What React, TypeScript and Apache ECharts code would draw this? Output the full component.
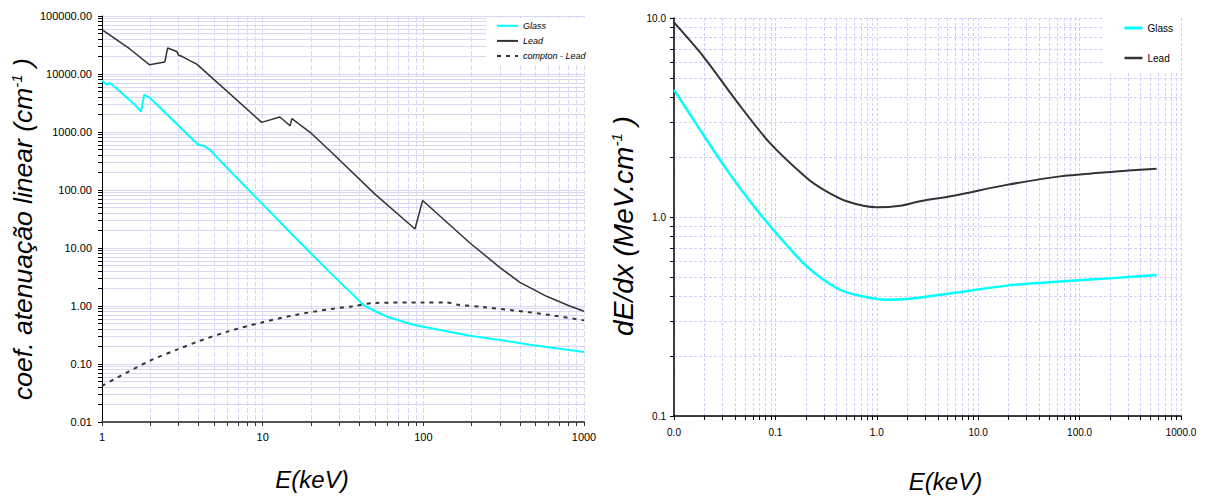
import React, { useEffect, useRef } from "react";
import * as echarts from "echarts";

// ---------- Left chart: linear attenuation coefficient ----------
const leadEnergy = [1, 1.49, 1.97, 2.46, 2.56, 2.92, 3.0, 3.16, 3.52, 3.89, 9.86, 12.8, 14.8, 15.2, 20.2, 26.2, 50, 88.7, 99, 195, 300, 399, 585, 800, 1000];
const leadMu = [58000, 27000, 14500, 16100, 28000, 24500, 21000, 20000, 17000, 14800, 1465, 1815, 1280, 1700, 935, 476, 85, 21.3, 66, 12.2, 4.6, 2.55, 1.47, 1.02, 0.81];

const glassEnergy = [1, 1.07, 1.12, 1.26, 1.46, 1.64, 1.75, 1.83, 1.99, 3.97, 4.37, 4.7, 6.1, 10, 15, 18.9, 26.2, 35, 42.3, 50, 59, 86.5, 100, 195, 300, 461, 1000];
const glassMu = [7660, 6540, 7000, 5370, 3700, 2760, 2260, 4400, 3860, 604, 565, 495, 230, 57, 18, 9.4, 3.8, 1.75, 1.05, 0.82, 0.66, 0.476, 0.44, 0.308, 0.26, 0.215, 0.161];

const comptonEnergy = [1, 1.99, 2.98, 3.97, 6.1, 9.9, 15.9, 27.5, 35.8, 50, 100, 140, 160, 236, 363, 615, 1000];
const comptonMu = [0.042, 0.114, 0.18, 0.245, 0.365, 0.52, 0.7, 0.9, 0.98, 1.13, 1.15, 1.15, 1.06, 0.96, 0.84, 0.7, 0.565];

// ---------- Right chart: stopping power ----------
const leadDedxEnergy = [0.01, 0.0195, 0.0415, 0.0885, 0.204, 0.3, 0.505, 1.0, 1.7, 2.67, 5.7, 19.1, 64, 215, 575];
const leadDedx = [9.5, 6.4, 3.81, 2.35, 1.57, 1.37, 1.2, 1.12, 1.14, 1.2, 1.28, 1.45, 1.6, 1.69, 1.75];

const glassDedxEnergy = [0.01, 0.018, 0.0331, 0.0562, 0.0953, 0.204, 0.433, 0.79, 1.25, 1.97, 5.7, 19.1, 64, 215, 575];
const glassDedx = [4.36, 2.75, 1.73, 1.2, 0.863, 0.565, 0.431, 0.396, 0.384, 0.387, 0.415, 0.452, 0.474, 0.493, 0.511];

// ---------- Tick labels ----------
const leftXLabels = [1, 10, 100, 1000];
const leftYLabels = [0.01, 0.1, 1, 10, 100, 1000, 10000, 100000];
const rightXLabels = [0.01, 0.1, 1, 10, 100, 1000];
const rightYLabels = [0.1, 1, 10];
const minorMultipliers = [1, 2, 3, 4, 5, 6, 7, 8, 9];

const leftLegend = ["Glass", "Lead", "compton - Lead"];
const rightLegend = ["Glass", "Lead"];

// tick positions at 1..9 x 10^k between the first and last label
function decadeTicks(labels: number[]): number[] {
  const out: number[] = [];
  for (let i = 0; i < labels.length - 1; i++) {
    for (const m of minorMultipliers) out.push(+(labels[i] * m).toPrecision(6));
  }
  out.push(labels[labels.length - 1]);
  return out;
}

const zip = (xs: number[], ys: number[]) => xs.map((x, i) => [x, ys[i]]);

const FONT = '"Liberation Sans", Arial, Helvetica, sans-serif';

export default function App() {
  const ref = useRef<HTMLDivElement>(null);

  useEffect(() => {
    if (!ref.current) return;
    const chart = echarts.init(ref.current, undefined, { renderer: "svg" });

    const leftGrid = "#d8d8f6";
    const rightGrid = "#cfcff7";

    const option: any = {
      animation: false,
      backgroundColor: "#ffffff",
      grid: [
        { left: 102, top: 16, width: 482, height: 406 },
        { left: 674, top: 18, width: 507, height: 398 },
      ],
      legend: [
        {
          data: leftLegend,
          orient: "vertical",
          left: 486,
          top: 18,
          padding: [3, 8, 4, 10],
          itemWidth: 21,
          itemHeight: 12,
          itemGap: 5.5,
          itemStyle: { opacity: 0 },
          backgroundColor: "#ffffff",
          selectedMode: false,
          textStyle: { fontSize: 9, fontStyle: "italic", color: "#000", fontFamily: FONT },
        },
        {
          data: rightLegend.map((n) => ({
            name: n,
            lineStyle: n === "Glass" ? { width: 3, color: "#00ffff" } : { width: 2.5, color: "#333" },
          })),
          orient: "vertical",
          left: 1104,
          top: 18,
          padding: [5, 8, 10, 19],
          itemWidth: 18,
          itemHeight: 12,
          itemGap: 20,
          itemStyle: { opacity: 0 },
          backgroundColor: "#ffffff",
          selectedMode: false,
          textStyle: { fontSize: 10, color: "#000", fontFamily: FONT },
        },
      ],
      xAxis: [
        {
          type: "log",
          logBase: 10,
          gridIndex: 0,
          min: 1,
          max: 1000,
          axisLine: { show: true, lineStyle: { color: "#555", width: 2 } },
          axisTick: { show: true, inside: false, length: 4, customValues: decadeTicks(leftXLabels), lineStyle: { color: "#333" } },
          axisLabel: {
            customValues: leftXLabels,
            formatter: (v: number) => String(Math.round(v)),
            margin: 9,
            fontSize: 11,
            color: "#000",
            fontFamily: FONT,
          },
          splitLine: { show: true, lineStyle: { color: leftGrid, width: 1, type: [5, 2] } },
          name: "E(keV)",
          nameLocation: "middle",
          nameGap: 45,
          nameTextStyle: { fontSize: 24, fontStyle: "italic", color: "#000", fontFamily: FONT, padding: [0, 62, 0, 0] },
        },
        {
          type: "log",
          logBase: 10,
          gridIndex: 1,
          min: 0.01,
          max: 1000,
          axisLine: { show: true, lineStyle: { color: "#000", width: 1.5 } },
          axisTick: { show: true, inside: false, length: 4, customValues: decadeTicks(rightXLabels), lineStyle: { color: "#000" } },
          axisLabel: {
            customValues: rightXLabels,
            formatter: (v: number) => v.toFixed(1),
            margin: 11,
            fontSize: 10,
            color: "#000",
            fontFamily: FONT,
          },
          splitLine: { show: true, lineStyle: { color: rightGrid, width: 1, type: [3, 2] } },
          name: "E(keV)",
          nameLocation: "middle",
          nameGap: 53,
          nameTextStyle: { fontSize: 24, fontStyle: "italic", color: "#000", fontFamily: FONT, padding: [0, 0, 0, 36] },
        },
      ],
      yAxis: [
        {
          type: "log",
          logBase: 10,
          gridIndex: 0,
          min: 0.01,
          max: 100000,
          axisLine: { show: true, lineStyle: { color: "#000", width: 1 } },
          axisTick: { show: true, inside: false, length: 4, customValues: decadeTicks(leftYLabels), lineStyle: { color: "#000" } },
          axisLabel: {
            customValues: leftYLabels,
            formatter: (v: number) => v.toFixed(2),
            margin: 10,
            fontSize: 11,
            color: "#000",
            fontFamily: FONT,
          },
          splitLine: { show: true, lineStyle: { color: leftGrid, width: 1 } },
          name: "{a|coef. atenuação linear (cm}{b|-1}{a| )}",
          nameLocation: "middle",
          nameGap: 44,
          nameTextStyle: {
            padding: [0, 20, 0, 0],
            rich: {
              a: { fontSize: 26.5, fontStyle: "italic", color: "#000", fontFamily: FONT },
              b: { fontSize: 15, fontStyle: "italic", color: "#000", fontFamily: FONT, verticalAlign: "top" },
            },
          },
        },
        {
          type: "log",
          logBase: 10,
          gridIndex: 1,
          min: 0.1,
          max: 10,
          axisLine: { show: true, lineStyle: { color: "#000", width: 1.5 } },
          axisTick: { show: true, inside: false, length: 4, customValues: decadeTicks(rightYLabels), lineStyle: { color: "#000" } },
          axisLabel: {
            customValues: rightYLabels,
            formatter: (v: number) => v.toFixed(1),
            margin: 8,
            fontSize: 10,
            color: "#000",
            fontFamily: FONT,
          },
          splitLine: { show: true, lineStyle: { color: rightGrid, width: 1, type: [3, 2] } },
          name: "{a|dE/dx (MeV.cm}{b|-1}{a| )}",
          nameLocation: "middle",
          nameGap: 37,
          nameTextStyle: {
            padding: [0, 18, 0, 0],
            rich: {
              a: { fontSize: 28, fontStyle: "italic", color: "#000", fontFamily: FONT },
              b: { fontSize: 15, fontStyle: "italic", color: "#000", fontFamily: FONT, verticalAlign: "top" },
            },
          },
        },
      ],
      series: [
        {
          name: "Glass",
          type: "line",
          xAxisIndex: 0,
          yAxisIndex: 0,
          data: zip(glassEnergy, glassMu),
          symbol: "none",
          z: 3,
          itemStyle: { color: "#00ffff" },
          lineStyle: { color: "#00ffff", width: 2 },
        },
        {
          name: "Lead",
          type: "line",
          xAxisIndex: 0,
          yAxisIndex: 0,
          data: zip(leadEnergy, leadMu),
          symbol: "none",
          z: 3,
          itemStyle: { color: "#333333" },
          lineStyle: { color: "#333333", width: 1.5 },
        },
        {
          name: "compton - Lead",
          type: "line",
          xAxisIndex: 0,
          yAxisIndex: 0,
          data: zip(comptonEnergy, comptonMu),
          symbol: "none",
          smooth: 0.3,
          z: 3,
          itemStyle: { color: "#333333" },
          lineStyle: { color: "#333333", width: 2, type: [4, 5] },
        },
        {
          name: "Glass",
          type: "line",
          xAxisIndex: 1,
          yAxisIndex: 1,
          data: zip(glassDedxEnergy, glassDedx),
          symbol: "none",
          smooth: 0.3,
          z: 3,
          itemStyle: { color: "#00ffff" },
          lineStyle: { color: "#00ffff", width: 2.5 },
        },
        {
          name: "Lead",
          type: "line",
          xAxisIndex: 1,
          yAxisIndex: 1,
          data: zip(leadDedxEnergy, leadDedx),
          symbol: "none",
          smooth: 0.3,
          z: 3,
          itemStyle: { color: "#333333" },
          lineStyle: { color: "#333333", width: 2 },
        },
      ],
    };

    chart.setOption(option);
    return () => chart.dispose();
  }, []);

  return (
    <div
      ref={ref}
      style={{ position: "absolute", left: 0, top: 0, width: 1207, height: 503, background: "#fff" }}
    />
  );
}
